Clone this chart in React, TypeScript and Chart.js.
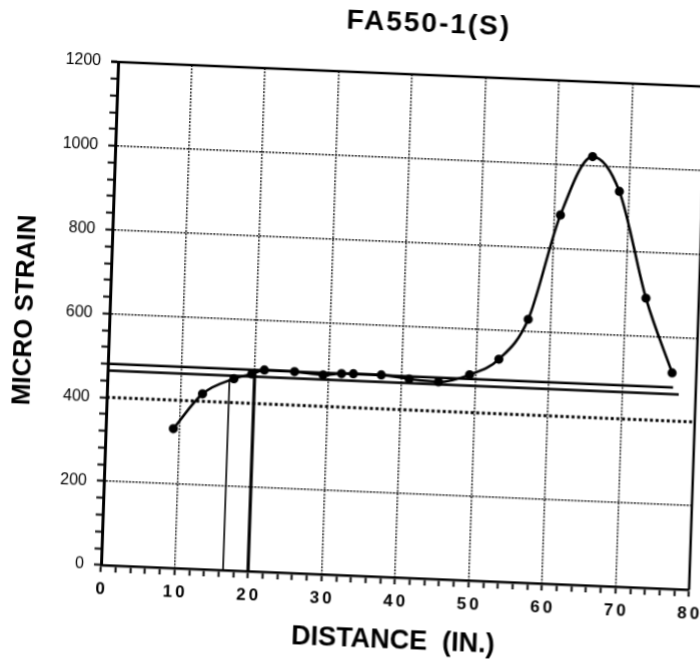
import React, { useEffect, useRef } from 'react';
import { Chart, registerables } from 'chart.js';

Chart.register(...registerables);

// ---- data ----
const distances = [9.2, 13.0, 17.2, 19.6, 21.3, 25.4, 29.3, 31.8, 33.4, 37.2, 41.0, 45.0, 49.2, 53.1, 56.9, 60.8, 64.9, 68.7, 72.8, 76.7];
const strains = [332, 418, 457, 470, 481, 480, 475, 480, 481, 481, 474, 470, 490, 530, 628, 880, 1022, 942, 690, 515];

const upperLineX = [0, 76.9];
const upperLineY = [480, 480];
const lowerLineX = [0, 77.7];
const lowerLineY = [464, 464];
const thinMarkX = [16.6, 16.6];
const thinMarkY = [0, 456];
const thickMarkX = [20, 20];
const thickMarkY = [0, 476];

const xTickLabels = [0, 10, 20, 30, 40, 50, 60, 70, 80];
const yTickLabels = [0, 200, 400, 600, 800, 1000, 1200];
const xGridValues = [10, 20, 30, 40, 50, 60, 70];
const yGridValues = [200, 600, 800, 1000];
const heavyGridValue = 400;

const TITLE = 'FA550-1(S)';
const X_TITLE = 'DISTANCE  (IN.)';
const Y_TITLE = 'MICRO STRAIN';

const FONT = '"Liberation Sans", Arial, Helvetica, sans-serif';

const pts = (xs: number[], ys: number[]) => xs.map((x, i) => ({ x, y: ys[i] }));

export default function App() {
  const ref = useRef<HTMLCanvasElement>(null);

  useEffect(() => {
    const canvas = ref.current;
    if (!canvas) return;

    const framePlugin = {
      id: 'frameAndTitle',
      beforeDatasetsDraw(chart: any) {
        const { ctx, chartArea: a, scales } = chart;
        const y = scales.y.getPixelForValue(heavyGridValue);
        ctx.save();
        ctx.strokeStyle = '#000';
        ctx.lineWidth = 3;
        ctx.setLineDash([3, 2.6]);
        ctx.beginPath();
        ctx.moveTo(a.left, y);
        ctx.lineTo(a.right, y);
        ctx.stroke();
        ctx.restore();
      },
      afterDraw(chart: any) {
        const { ctx, chartArea: a, scales } = chart;
        ctx.save();
        ctx.strokeStyle = '#000';
        ctx.lineWidth = 2.4;
        ctx.beginPath();
        ctx.moveTo(a.left - 7, a.top);
        ctx.lineTo(a.right, a.top);
        ctx.lineTo(a.right, a.bottom);
        ctx.stroke();

        ctx.fillStyle = '#000';
        ctx.textAlign = 'center';
        ctx.textBaseline = 'middle';

        // x tick labels (spaced digits, as in the original)
        ctx.font = `bold 17px ${FONT}`;
        (ctx as any).letterSpacing = '3px';
        xTickLabels.forEach((v) => {
          const x = scales.x.getPixelForValue(v);
          ctx.fillText(String(v), x + 1.5, a.bottom + 24);
        });

        // main title
        ctx.font = `bold 28px ${FONT}`;
        (ctx as any).letterSpacing = '2px';
        ctx.fillText(TITLE, (a.left + a.right) / 2 + 15, a.top - 51);
        ctx.restore();
      },
    };

    const chart = new Chart(canvas, {
      type: 'line',
      data: {
        datasets: [
          {
            data: pts(distances, strains),
            borderColor: '#000',
            borderWidth: 2.6,
            pointRadius: 3.3,
            pointBackgroundColor: '#000',
            pointBorderColor: '#000',
            cubicInterpolationMode: 'monotone',
            fill: false,
          },
          { data: pts(upperLineX, upperLineY), borderColor: '#000', borderWidth: 2.5, pointRadius: 0, fill: false },
          { data: pts(lowerLineX, lowerLineY), borderColor: '#000', borderWidth: 2.5, pointRadius: 0, fill: false },
          { data: pts(thinMarkX, thinMarkY), borderColor: '#000', borderWidth: 1.6, pointRadius: 0, fill: false },
          { data: pts(thickMarkX, thickMarkY), borderColor: '#000', borderWidth: 3.2, pointRadius: 0, fill: false },
        ],
      },
      options: {
        responsive: false,
        animation: false,
        events: [],
        layout: { padding: { top: 102, right: 31, bottom: 0, left: 0 } },
        plugins: {
          legend: { display: false },
          tooltip: { enabled: false },
          title: { display: false },
        },
        scales: {
          x: {
            type: 'linear',
            min: 0,
            max: 80,
            afterFit: (s: any) => { s.height = 144; },
            ticks: {
              stepSize: 2,
              autoSkip: false,
              maxRotation: 0,
              minRotation: 0,
              display: false,
            },
            grid: {
              color: (c: any) => (c.tick && xGridValues.includes(c.tick.value) ? '#111' : 'rgba(0,0,0,0)'),
              lineWidth: 1.4,
              tickColor: '#000',
              tickLength: 7,
              tickWidth: 2,
            },
            border: { display: true, color: '#000', width: 2.6, dash: [2, 1.3] },
            title: {
              display: true,
              text: X_TITLE,
              color: '#000',
              font: { family: FONT, size: 27, weight: 'bold' },
              padding: { top: 0, bottom: 64 },
            },
          },
          y: {
            type: 'linear',
            min: 0,
            max: 1200,
            afterFit: (s: any) => { s.width = 121; },
            ticks: {
              stepSize: 40,
              autoSkip: false,
              padding: 10,
              color: '#000',
              font: { family: FONT, size: 16 },
              callback: (v: any) => (yTickLabels.includes(Number(v)) ? String(v) : ''),
            },
            grid: {
              color: (c: any) => (c.tick && yGridValues.includes(c.tick.value) ? '#111' : 'rgba(0,0,0,0)'),
              lineWidth: 1.4,
              tickColor: '#000',
              tickLength: 7,
              tickWidth: 2,
            },
            border: { display: true, color: '#000', width: 3, dash: [2, 1.3] },
            title: {
              display: true,
              text: Y_TITLE,
              color: '#000',
              font: { family: FONT, size: 26, weight: 'bold' },
              padding: { top: 21, bottom: 0 },
            },
          },
        },
      },
      plugins: [framePlugin],
    } as any);

    return () => chart.destroy();
  }, []);

  return (
    <div style={{ position: 'fixed', left: 0, top: 0, width: 700, height: 669, overflow: 'hidden', background: '#fff' }}>
      <div
        style={{
          position: 'absolute',
          left: -20,
          top: -40,
          width: 740,
          height: 749,
          transformOrigin: '121px 605px',
          transform: 'matrix(1, 0.042, -0.034, 1, 0, 0)',
        }}
      >
        <canvas ref={ref} width={740} height={749} style={{ width: 740, height: 749, display: 'block' }} />
      </div>
    </div>
  );
}
